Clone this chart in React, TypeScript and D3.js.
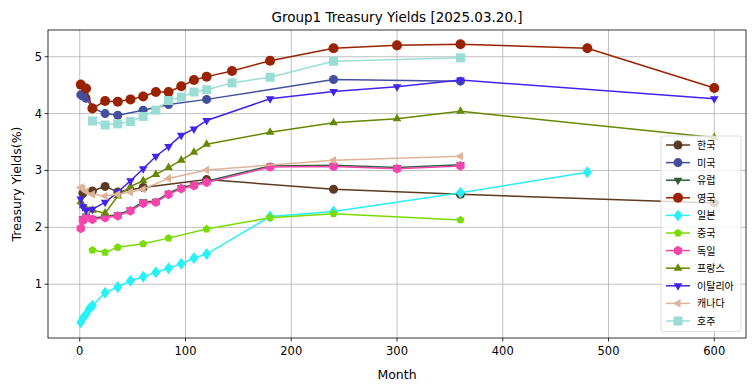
import React from 'react';
import * as d3 from 'd3';

// maturities in months and yields in %
const koreaMonths = [3, 12, 24, 36, 60, 120, 240, 360, 600];
const koreaYields = [2.6, 2.64, 2.72, 2.62, 2.7, 2.84, 2.67, 2.58, 2.43];

const usMonths = [1, 2, 3, 6, 12, 24, 36, 60, 84, 120, 240, 360];
const usYields = [4.33, 4.33, 4.31, 4.27, 4.1, 4.0, 3.97, 4.06, 4.16, 4.25, 4.6, 4.57];

const euMonths = [3, 6, 12, 24, 36, 48, 60, 72, 84, 96, 108, 120, 180, 240, 300, 360];
const euYields = [2.15, 2.2, 2.16, 2.19, 2.22, 2.31, 2.45, 2.46, 2.6, 2.7, 2.75, 2.81, 3.08, 3.09, 3.05, 3.1];

const ukMonths = [1, 6, 12, 24, 36, 48, 60, 72, 84, 96, 108, 120, 144, 180, 240, 300, 360, 480, 600];
const ukYields = [4.51, 4.44, 4.09, 4.22, 4.21, 4.25, 4.3, 4.38, 4.38, 4.48, 4.59, 4.65, 4.75, 4.93, 5.15, 5.2, 5.22, 5.15, 4.45];

const japanMonths = [1, 3, 6, 9, 12, 24, 36, 48, 60, 72, 84, 96, 108, 120, 180, 240, 360, 480];
const japanYields = [0.33, 0.4, 0.47, 0.57, 0.62, 0.85, 0.95, 1.06, 1.13, 1.21, 1.28, 1.36, 1.46, 1.53, 2.19, 2.28, 2.61, 2.97];

const chinaMonths = [12, 24, 36, 60, 84, 120, 180, 240, 360];
const chinaYields = [1.6, 1.56, 1.65, 1.71, 1.81, 1.97, 2.17, 2.24, 2.13];

const germanyMonths = [1, 3, 6, 12, 24, 36, 48, 60, 72, 84, 96, 108, 120, 180, 240, 300, 360];
const germanyYields = [1.98, 2.12, 2.17, 2.14, 2.17, 2.2, 2.29, 2.42, 2.44, 2.58, 2.68, 2.73, 2.79, 3.06, 3.07, 3.03, 3.08];

const franceMonths = [1, 3, 6, 12, 24, 36, 48, 60, 72, 84, 96, 108, 120, 180, 240, 300, 360, 600];
const franceYields = [2.45, 2.38, 2.33, 2.3, 2.25, 2.55, 2.72, 2.82, 2.93, 3.05, 3.18, 3.32, 3.46, 3.67, 3.84, 3.91, 4.04, 3.58];

const italyMonths = [1, 3, 6, 12, 24, 36, 48, 60, 72, 84, 96, 108, 120, 180, 240, 300, 360, 600];
const italyYields = [2.5, 2.36, 2.3, 2.32, 2.44, 2.62, 2.82, 3.03, 3.25, 3.42, 3.62, 3.73, 3.88, 4.26, 4.39, 4.47, 4.59, 4.26];

const canadaMonths = [1, 3, 6, 12, 24, 36, 48, 60, 84, 120, 240, 360];
const canadaYields = [2.7, 2.68, 2.63, 2.58, 2.55, 2.58, 2.62, 2.67, 2.86, 3.01, 3.18, 3.25];

const australiaMonths = [12, 24, 36, 48, 60, 72, 84, 96, 108, 120, 144, 180, 240, 360];
const australiaYields = [3.87, 3.8, 3.82, 3.86, 3.95, 4.06, 4.23, 4.29, 4.38, 4.42, 4.54, 4.64, 4.92, 4.98];

const xTicks = [0, 100, 200, 300, 400, 500, 600];
const yTicks = [1, 2, 3, 4, 5];

const series = [
  {name: '한국', months: koreaMonths, yields: koreaYields, color: '#5b3a1f', marker: 'o', size: 4.5},
  {name: '미국', months: usMonths, yields: usYields, color: '#434f9d', marker: 'o', size: 4.5},
  {name: '유럽', months: euMonths, yields: euYields, color: '#2d5e3e', marker: 'v', size: 5},
  {name: '영국', months: ukMonths, yields: ukYields, color: '#992200', marker: 'o', size: 5},
  {name: '일본', months: japanMonths, yields: japanYields, color: '#26f2f5', marker: 'D', size: 6},
  {name: '중국', months: chinaMonths, yields: chinaYields, color: '#77dd00', marker: 'p', size: 4.2},
  {name: '독일', months: germanyMonths, yields: germanyYields, color: '#f545ad', marker: 'h', size: 4.8},
  {name: '프랑스', months: franceMonths, yields: franceYields, color: '#668800', marker: '^', size: 5},
  {name: '이탈리아', months: italyMonths, yields: italyYields, color: '#4422ee', marker: 'v', size: 5},
  {name: '캐나다', months: canadaMonths, yields: canadaYields, color: '#deb399', marker: '<', size: 5},
  {name: '호주', months: australiaMonths, yields: australiaYields, color: '#9addd5', marker: 's', size: 4.5},
];

const W = 755, H = 391;
const M = {left: 48, right: 746, top: 30, bottom: 338};

function poly(n, r, rot) {
  const pts = d3.range(n).map(i => {
    const a = rot + (i * 2 * Math.PI) / n;
    return [r * Math.sin(a), -r * Math.cos(a)];
  });
  return 'M' + pts.map(p => p[0].toFixed(2) + ',' + p[1].toFixed(2)).join('L') + 'Z';
}

function markerPath(m, r) {
  switch (m) {
    case 'o': return d3.symbol(d3.symbolCircle, Math.PI * r * r)();
    case 's': return `M${-r},${-r}H${r}V${r}H${-r}Z`;
    case 'D': return `M0,${-r}L${r * 0.75},0L0,${r}L${-r * 0.75},0Z`;
    case '^': return poly(3, r, 0);
    case 'v': return poly(3, r, Math.PI);
    case '<': return poly(3, r, -Math.PI / 2);
    case 'p': return poly(5, r, 0);
    case 'h': return poly(6, r, 0);
    default: return '';
  }
}

export default function App() {
  const x = d3.scaleLinear().domain([-30, 630]).range([M.left, M.right]);
  const y = d3.scaleLinear().domain([0.054, 5.47]).range([M.bottom, M.top]);
  const font = 'DejaVu Sans, sans-serif';
  const legX = 661, legY = 136, legW = 80, rowH = 17.6;

  return (
    <svg width={W} height={H} style={{position: 'absolute', left: 0, top: 0, background: '#fff'}}>
      <defs>
        <clipPath id="plot">
          <rect x={M.left} y={M.top} width={M.right - M.left} height={M.bottom - M.top}/>
        </clipPath>
      </defs>
      {/* grid */}
      <g stroke="#b0b0b0" strokeWidth={0.8}>
        {xTicks.map(t => <line key={'gx' + t} x1={x(t)} x2={x(t)} y1={M.top} y2={M.bottom}/>)}
        {yTicks.map(t => <line key={'gy' + t} x1={M.left} x2={M.right} y1={y(t)} y2={y(t)}/>)}
      </g>
      <g clipPath="url(#plot)">
        {series.map(s => {
          const pts = s.months.map((m, i) => [m, s.yields[i]]);
          const line = d3.line().x(d => x(d[0])).y(d => y(d[1]));
          const path = markerPath(s.marker, s.size);
          return (
            <g key={s.name}>
              <path d={line(pts)} fill="none" stroke={s.color} strokeWidth={1.5}/>
              {pts.map((d, i) => (
                <path key={i} d={path} transform={`translate(${x(d[0])},${y(d[1])})`} fill={s.color}/>
              ))}
            </g>
          );
        })}
      </g>
      {/* axes frame */}
      <rect x={M.left} y={M.top} width={M.right - M.left} height={M.bottom - M.top}
            fill="none" stroke="#000" strokeWidth={0.8}/>
      <g fontFamily={font} fontSize={11.5} fill="#000">
        {xTicks.map(t => (
          <g key={'tx' + t}>
            <line x1={x(t)} x2={x(t)} y1={M.bottom} y2={M.bottom + 3.5} stroke="#000" strokeWidth={0.8}/>
            <text x={x(t)} y={M.bottom + 17} textAnchor="middle">{t}</text>
          </g>
        ))}
        {yTicks.map(t => (
          <g key={'ty' + t}>
            <line x1={M.left - 3.5} x2={M.left} y1={y(t)} y2={y(t)} stroke="#000" strokeWidth={0.8}/>
            <text x={M.left - 6} y={y(t) + 4} textAnchor="end">{t}</text>
          </g>
        ))}
        <text x={(M.left + M.right) / 2} y={379} textAnchor="middle" fontSize={12.5}>Month</text>
        <text transform={`translate(21,${(M.top + M.bottom) / 2}) rotate(-90)`} textAnchor="middle" fontSize={12.5}>Treasury Yields(%)</text>
        <text x={(M.left + M.right) / 2} y={22} textAnchor="middle" fontSize={13.5}>Group1 Treasury Yields [2025.03.20.]</text>
      </g>
      {/* legend */}
      <g>
        <rect x={legX} y={legY} width={legW} height={rowH * series.length + 2} rx={2}
              fill="#fff" fillOpacity={0.8} stroke="#d5d5d5" strokeWidth={0.8}/>
        {series.map((s, i) => {
          const cy = legY + 9 + i * rowH;
          return (
            <g key={'lg' + s.name}>
              <line x1={666} x2={690} y1={cy} y2={cy} stroke={s.color} strokeWidth={1.5}/>
              <path d={markerPath(s.marker, s.size)} transform={`translate(678,${cy})`} fill={s.color}/>
              <text x={697} y={cy + 4} fontFamily="Noto Sans CJK KR, sans-serif" fontSize={10}>{s.name}</text>
            </g>
          );
        })}
      </g>
    </svg>
  );
}
